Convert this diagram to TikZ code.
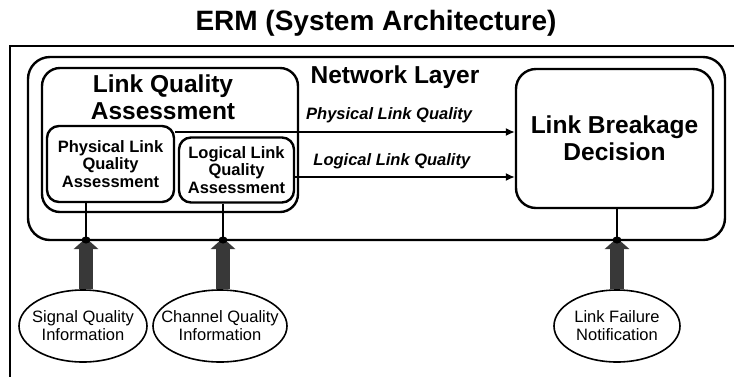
\documentclass[tikz,border=0pt]{standalone}
\usepackage{fontspec}
\setmainfont{Liberation Sans}
\usetikzlibrary{arrows.meta,shapes.geometric}

\begin{document}
\begin{tikzpicture}[x=1pt,y=-1pt,
  box/.style={draw,line width=2.4pt,rounded corners=#1,inner sep=0pt},
  box/.default=12pt,
  info/.style={draw,line width=1.6pt,ellipse,minimum width=128pt,minimum height=72pt,
    inner xsep=-25pt,inner ysep=0pt,align=center,font=\fontsize{16.5}{18}\selectfont},
  conn/.style={line width=1.5pt},
  feed/.style={line width=14pt,draw=black!78,
    -{Triangle[width=24pt,length=11pt,fill=black!78]}}]

\useasboundingbox (0,0) rectangle (734,376);

\node[font=\fontsize{28}{30}\selectfont\bfseries] (title) at (376,23) {ERM (System Architecture)};

% outer frame, cut off at the right and bottom
\draw[line width=2.4pt] (10,390) -- (10,46) -- (750,46);

\node[box=22pt,minimum width=697pt,minimum height=183pt] (net) at (376.5,148.5) {};
\node[font=\fontsize{24.5}{26}\selectfont\bfseries] (netlabel) at (395,77) {Network Layer};

\node[box=18pt,minimum width=256pt,minimum height=144pt] (lqa) at (170,140) {};
\node[align=center,font=\fontsize{24.5}{27}\selectfont\bfseries] (lqalabel) at (163,97)
  {Link Quality\\Assessment};

\node[box,minimum width=127pt,minimum height=76pt,align=center,
  font=\fontsize{16.5}{17.5}\selectfont\bfseries] (plqa) at (110.5,164)
  {Physical Link\\Quality\\Assessment};
\node[box,minimum width=115pt,minimum height=65pt,align=center,
  font=\fontsize{16.5}{17.5}\selectfont\bfseries] (llqa) at (236.5,170)
  {Logical Link\\Quality\\Assessment};

\node[box=20pt,minimum width=197pt,minimum height=139pt,align=center,
  font=\fontsize{24.5}{27}\selectfont\bfseries] (lbd) at (614.5,138.5)
  {Link Breakage\\Decision};

\coordinate (phy) at (0,132);
\coordinate (log) at (0,177);
\draw[conn,-{Latex[length=9pt,width=8pt]}] (plqa.east |- phy) -- (lbd.west |- phy)
  node[pos=0.63,above=5pt,font=\fontsize{16.5}{18}\selectfont\bfseries\itshape] {Physical Link Quality};
\draw[conn,-{Latex[length=9pt,width=8pt]}] (llqa.east |- log) -- (lbd.west |- log)
  node[pos=0.44,above=4pt,font=\fontsize{16.5}{18}\selectfont\bfseries\itshape] {Logical Link Quality};

\coordinate (d1) at (86,240);
\coordinate (d2) at (223,240);
\coordinate (d3) at (617,240);

\node[info,minimum width=128pt] (sig) at (83,326) {Signal Quality\\Information};
\node[info,minimum width=134pt] (chan) at (220,326) {Channel Quality\\Information};
\node[info,minimum width=126pt] (fail) at (617,326) {Link Failure\\Notification};

\draw[conn] (plqa.south -| d1) -- (d1);
\draw[conn] (llqa.south -| d2) -- (d2);
\draw[conn] (lbd.south -| d3) -- (d3);

\draw[feed] (sig.north -| d1) -- ([yshift=2pt]d1);
\draw[feed] (chan.north -| d2) -- ([yshift=2pt]d2);
\draw[feed] (fail.north -| d3) -- ([yshift=2pt]d3);

\foreach \d in {d1,d2,d3}
  \fill (\d) ellipse (4.5pt and 3.5pt);

\end{tikzpicture}
\end{document}
